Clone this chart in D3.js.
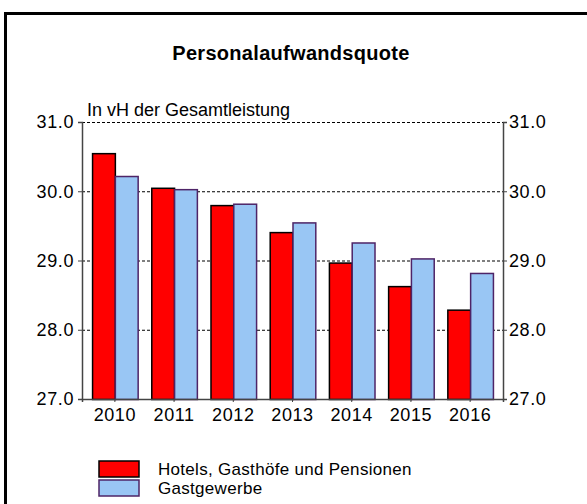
<!DOCTYPE html>
<html>
<head>
<meta charset="utf-8">
<script src="https://cdn.jsdelivr.net/npm/d3@7"></script>
<style>
  body { margin: 0; background: #fff; }
  svg { font-family: "Liberation Sans", Arial, sans-serif; }
</style>
</head>
<body>
<div id="chart"></div>
<script>
// data
var years = ["2010", "2011", "2012", "2013", "2014", "2015", "2016"];
var hotels = [30.55, 30.05, 29.80, 29.41, 28.97, 28.63, 28.29];
var gastgewerbe = [30.22, 30.03, 29.82, 29.55, 29.26, 29.03, 28.82];
var seriesNames = ["Hotels, Gasthöfe und Pensionen", "Gastgewerbe"];
var yTicks = [27, 28, 29, 30, 31];

var W = 587, H = 504;
var margin = { top: 122, right: 84, bottom: 105, left: 82 };
var width = W - margin.left - margin.right;
var height = H - margin.top - margin.bottom;

var svg = d3.select("#chart").append("svg")
  .attr("width", W)
  .attr("height", H);

// outer frame (only left and top visible)
svg.append("rect")
  .attr("x", 5.5).attr("y", 13.5)
  .attr("width", 600).attr("height", 520)
  .attr("fill", "none")
  .attr("stroke", "#000")
  .attr("stroke-width", 3);

svg.append("text")
  .attr("x", 291).attr("y", 60)
  .attr("text-anchor", "middle")
  .style("font-size", "20px")
  .style("font-weight", "bold")
  .style("letter-spacing", "0.3px")
  .text("Personalaufwandsquote");

var g = svg.append("g")
  .attr("transform", "translate(" + margin.left + "," + margin.top + ")");

var x = d3.scaleBand().domain(years).range([0, width])
  .paddingInner(0.23).paddingOuter(0.17);
var x1 = d3.scaleBand().domain([0, 1]).range([0, x.bandwidth()]);
var y = d3.scaleLinear().domain([27, 31]).range([height, 0]);

// dashed grid
g.selectAll(".grid")
  .data(yTicks.slice(1))
  .enter().append("line")
  .attr("x1", 0).attr("x2", width)
  .attr("y1", function (d) { return y(d) + 0.5; })
  .attr("y2", function (d) { return y(d) + 0.5; })
  .attr("stroke", "#000")
  .attr("stroke-width", 1.2)
  .attr("stroke-dasharray", "3,2");

g.append("text")
  .attr("x", 5).attr("y", -6)
  .style("font-size", "18px")
  .text("In vH der Gesamtleistung");

var data = years.map(function (yr, i) {
  return { year: yr, values: [hotels[i], gastgewerbe[i]] };
});
var fills = ["#ff0000", "#99c6f4"];
var strokes = ["#000", "#4e2467"];

var groups = g.selectAll(".grp")
  .data(data)
  .enter().append("g")
  .attr("transform", function (d) { return "translate(" + x(d.year) + ",0)"; });

groups.selectAll("rect")
  .data(function (d) { return d.values; })
  .enter().append("rect")
  .attr("x", function (d, i) { return x1(i) + 0.5; })
  .attr("y", function (d) { return y(d) + 0.5; })
  .attr("width", x1.bandwidth())
  .attr("height", function (d) { return height - y(d); })
  .attr("fill", function (d, i) { return fills[i]; })
  .attr("stroke", function (d, i) { return strokes[i]; })
  .attr("stroke-width", 1.5);

// axes
var fmt = d3.format(".1f");
var yLeft = g.append("g")
  .call(d3.axisLeft(y).tickValues(yTicks).tickFormat(fmt).tickSize(4).tickPadding(4));
var yRight = g.append("g")
  .attr("transform", "translate(" + width + ",0)")
  .call(d3.axisRight(y).tickValues(yTicks).tickFormat(fmt).tickSize(4).tickPadding(2));
var xAxis = g.append("g")
  .attr("transform", "translate(0," + height + ")")
  .call(d3.axisBottom(x).tickSize(3).tickPadding(6));

[yLeft, yRight, xAxis].forEach(function (a) {
  a.select(".domain").attr("stroke", "#444").attr("stroke-width", 1.5);
  a.selectAll(".tick line").attr("stroke", "#444");
  a.selectAll("text").style("font-size", "18px").attr("fill", "#000")
    .style("letter-spacing", "0.6px")
    .style("font-family", "'Liberation Sans', Arial, sans-serif");
});

// legend
var legend = svg.selectAll(".leg")
  .data(seriesNames)
  .enter().append("g")
  .attr("transform", function (d, i) { return "translate(99," + (461 + i * 19) + ")"; });

legend.append("rect")
  .attr("width", 40).attr("height", 16)
  .attr("fill", function (d, i) { return fills[i]; })
  .attr("stroke", function (d, i) { return strokes[i]; })
  .attr("stroke-width", 1.5);

legend.append("text")
  .attr("x", 59).attr("y", 14)
  .style("font-size", "17px")
  .style("letter-spacing", "0.3px")
  .text(function (d) { return d; });
</script>
</body>
</html>
